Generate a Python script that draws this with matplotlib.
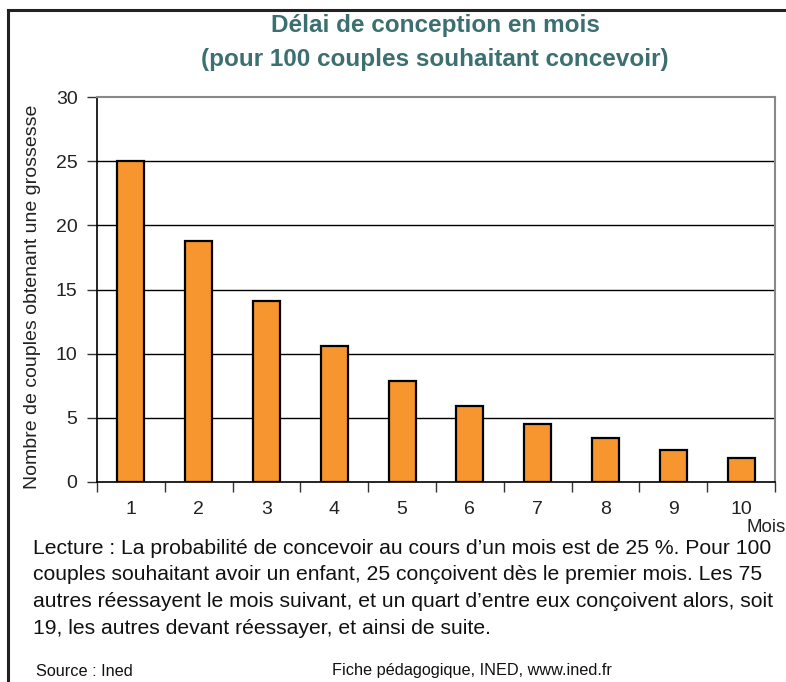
import numpy as np
import matplotlib.pyplot as plt
from matplotlib.lines import Line2D

plt.rcParams['font.family'] = ['Liberation Sans', 'DejaVu Sans']

mois = ['1', '2', '3', '4', '5', '6', '7', '8', '9', '10']
couples = [25.0, 18.8, 14.1, 10.6, 7.9, 5.9, 4.5, 3.4, 2.5, 1.9]
yticks = [0, 5, 10, 15, 20, 25, 30]

titre = ['Délai de conception en mois', '(pour 100 couples souhaitant concevoir)']
lecture = ["Lecture : La probabilité de concevoir au cours d\u2019un mois est de 25 %. Pour 100",
           "couples souhaitant avoir un enfant, 25 conçoivent dès le premier mois. Les 75",
           "autres réessayent le mois suivant, et un quart d\u2019entre eux conçoivent alors, soit",
           "19, les autres devant réessayer, et ainsi de suite."]

fig = plt.figure(figsize=(7.86, 6.82), dpi=100)
W, H = 786, 682

# cadre exterieur (gauche et haut visibles)
fig.add_artist(Line2D([8 / W, 8 / W], [0, 1 - 10 / H], color='#222222', lw=2.2, transform=fig.transFigure))
fig.add_artist(Line2D([8 / W, 1], [1 - 10 / H, 1 - 10 / H], color='#222222', lw=2.2, transform=fig.transFigure))

ax = fig.add_axes([97 / W, 1 - 482 / H, (775 - 97) / W, (482 - 97) / H])
x = np.arange(len(mois))
ax.bar(x, couples, width=0.4, color='#F7962E', edgecolor='black', linewidth=1.6, zorder=3)

ax.set_xlim(-0.5, len(mois) - 0.5)
ax.set_ylim(0, 30)
ax.set_yticks(yticks)
ax.set_yticklabels([str(t) for t in yticks], fontsize=14, color='#222222')
for t in yticks[1:-1]:
    ax.axhline(t, color='black', lw=1.0, zorder=1)

ax.set_xticks(x)
ax.set_xticklabels(mois, fontsize=14, color='#222222')
ax.set_xticks(np.arange(-0.5, len(mois)), minor=True)
ax.tick_params(axis='x', which='major', length=0, pad=14)
ax.tick_params(axis='x', which='minor', length=7, width=1.0, color='#333333')
ax.tick_params(axis='y', length=7, width=1.0, color='#333333', pad=7)

for s in ['top', 'right']:
    ax.spines[s].set_color('#888888')
    ax.spines[s].set_linewidth(1.5)
for s in ['left', 'bottom']:
    ax.spines[s].set_color('black')
    ax.spines[s].set_linewidth(1.2)

ax.set_ylabel('Nombre de couples obtenant une grossesse', fontsize=14, color='#222222')
ax.yaxis.set_label_coords(-0.082, 0.48)

for i, ligne in enumerate(titre):
    fig.text(0.5 + 42 / W, 1 - (32 + 34 * i) / H, ligne, ha='center', va='baseline', fontsize=17.5,
             fontweight='bold', color='#3B6F70')

fig.text(786 / W, 1 - 527 / H, 'Mois', ha='right', va='center', fontsize=13.5, color='#222222')

for i, ligne in enumerate(lecture):
    fig.text(33 / W, 1 - (548 + 26.7 * i) / H, ligne, ha='left', va='center', fontsize=15.2, color='#111111')

fig.text(36 / W, 1 - 671 / H, 'Source : Ined', ha='left', va='center', fontsize=11.7, color='#111111')
fig.text(332 / W, 1 - 671 / H, 'Fiche pédagogique, INED, www.ined.fr', ha='left', va='center', fontsize=11.7,
         color='#111111')

fig.savefig('out.png', dpi=100)
